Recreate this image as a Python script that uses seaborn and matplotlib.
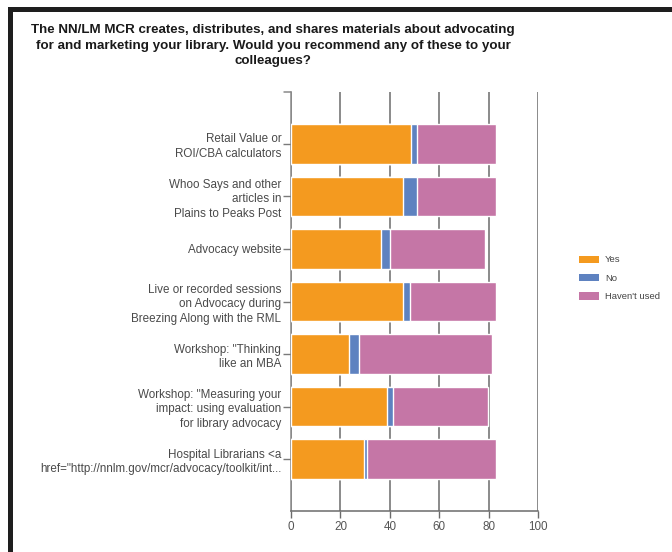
import matplotlib
matplotlib.use("Agg")
import matplotlib.pyplot as plt
import seaborn as sns
import pandas as pd
import numpy as np
from matplotlib.patches import Rectangle, Patch

categories = [
    "Retail Value or\nROI/CBA calculators",
    "Whoo Says and other\narticles in\nPlains to Peaks Post",
    "Advocacy website",
    "Live or recorded sessions\non Advocacy during\nBreezing Along with the RML",
    "Workshop: \"Thinking\nlike an MBA",
    "Workshop: \"Measuring your\nimpact: using evaluation\nfor library advocacy",
    "Hospital Librarians <a\nhref=\"http://nnlm.gov/mcr/advocacy/toolkit/int...",
]
yes = [48.5, 45.3, 36.5, 45.3, 23.6, 38.9, 29.7]
no = [2.5, 5.6, 3.4, 2.7, 4.1, 2.3, 1.0]
havent = [31.8, 31.9, 38.8, 34.8, 53.8, 38.5, 52.1]
series = ["Yes", "No", "Haven't used"]
colors = {"Yes": "#F49A1F", "No": "#5E82C0", "Haven't used": "#C576A6"}
xticks = [0, 20, 40, 60, 80, 100]
title = ("The NN/LM MCR creates, distributes, and shares materials about advocating\n"
         "for and marketing your library. Would you recommend any of these to your\n"
         "colleagues?")

df = pd.DataFrame({"category": categories, "Yes": yes, "No": no, "Haven't used": havent})
df["c1"] = df["Yes"]
df["c2"] = df["Yes"] + df["No"]
df["c3"] = df["c2"] + df["Haven't used"]

sns.set_style("white")
plt.rcParams["font.family"] = ["Liberation Sans", "DejaVu Sans"]

fig = plt.figure(figsize=(6.72, 5.52), dpi=100)
ax = fig.add_axes([291 / 672, 1 - 511 / 552, (538 - 291) / 672, (511 - 92) / 552])

for col, name in [("c3", "Haven't used"), ("c2", "No"), ("c1", "Yes")]:
    sns.barplot(data=df, x=col, y="category", order=categories, orient="h",
                color=colors[name], saturation=1, width=0.76, ax=ax, zorder=3)

ax.set_xlim(0, 100)
ax.set_ylim(6.99, -0.99)
ax.set_xticks(xticks)
ax.set_xticklabels([str(t) for t in xticks])
ax.set_xlabel("")
ax.set_ylabel("")
ax.grid(axis="x", color="#6b6b6b", linewidth=1.1, zorder=0)
ax.set_axisbelow(True)
for s in ["top", "right"]:
    ax.spines[s].set_visible(False)
ax.spines["left"].set_color("#8a8a8a")
ax.spines["bottom"].set_color("#6b6b6b")
ax.spines["left"].set_linewidth(1.1)
ax.spines["bottom"].set_linewidth(1.1)
ax.tick_params(axis="y", length=6, width=1, color="#7a7a7a", labelsize=8.4,
               labelcolor="#4a4a4a", left=True, pad=1)
ax.tick_params(axis="x", length=5, width=1, color="#6b6b6b", labelsize=8.4,
               labelcolor="#555555", bottom=True, pad=2)
for lab in ax.get_yticklabels():
    lab.set_multialignment("right")
    lab.set_linespacing(1.3)
# top tick at top of y axis
ax.plot([-3, 0], [-0.99, -0.99], color="#8a8a8a", lw=1.1, clip_on=False)

handles = [Patch(facecolor=colors[s], edgecolor="none", label=s) for s in series]
leg = fig.legend(handles=handles, loc="upper left", bbox_to_anchor=(570 / 672, 1 - 247 / 552),
                 frameon=False, fontsize=6.8, handlelength=2.2, handleheight=0.8,
                 labelspacing=1.0, handletextpad=0.6)
for t in leg.get_texts():
    t.set_color("#444444")

fig.text(273 / 672, 1 - 24 / 552, title, ha="center", va="top", fontsize=9.6,
         fontweight="bold", color="#1a1a1a", linespacing=1.4)

# black frame bands
fig.patches.append(Rectangle((8 / 672, 0), 5 / 672, 1 - 7 / 552, transform=fig.transFigure,
                             facecolor="#1e1e1e", edgecolor="none", figure=fig))
fig.patches.append(Rectangle((8 / 672, 1 - 12 / 552), 1, 5 / 552, transform=fig.transFigure,
                             facecolor="#1e1e1e", edgecolor="none", figure=fig))

fig.savefig("out.png", dpi=100)
